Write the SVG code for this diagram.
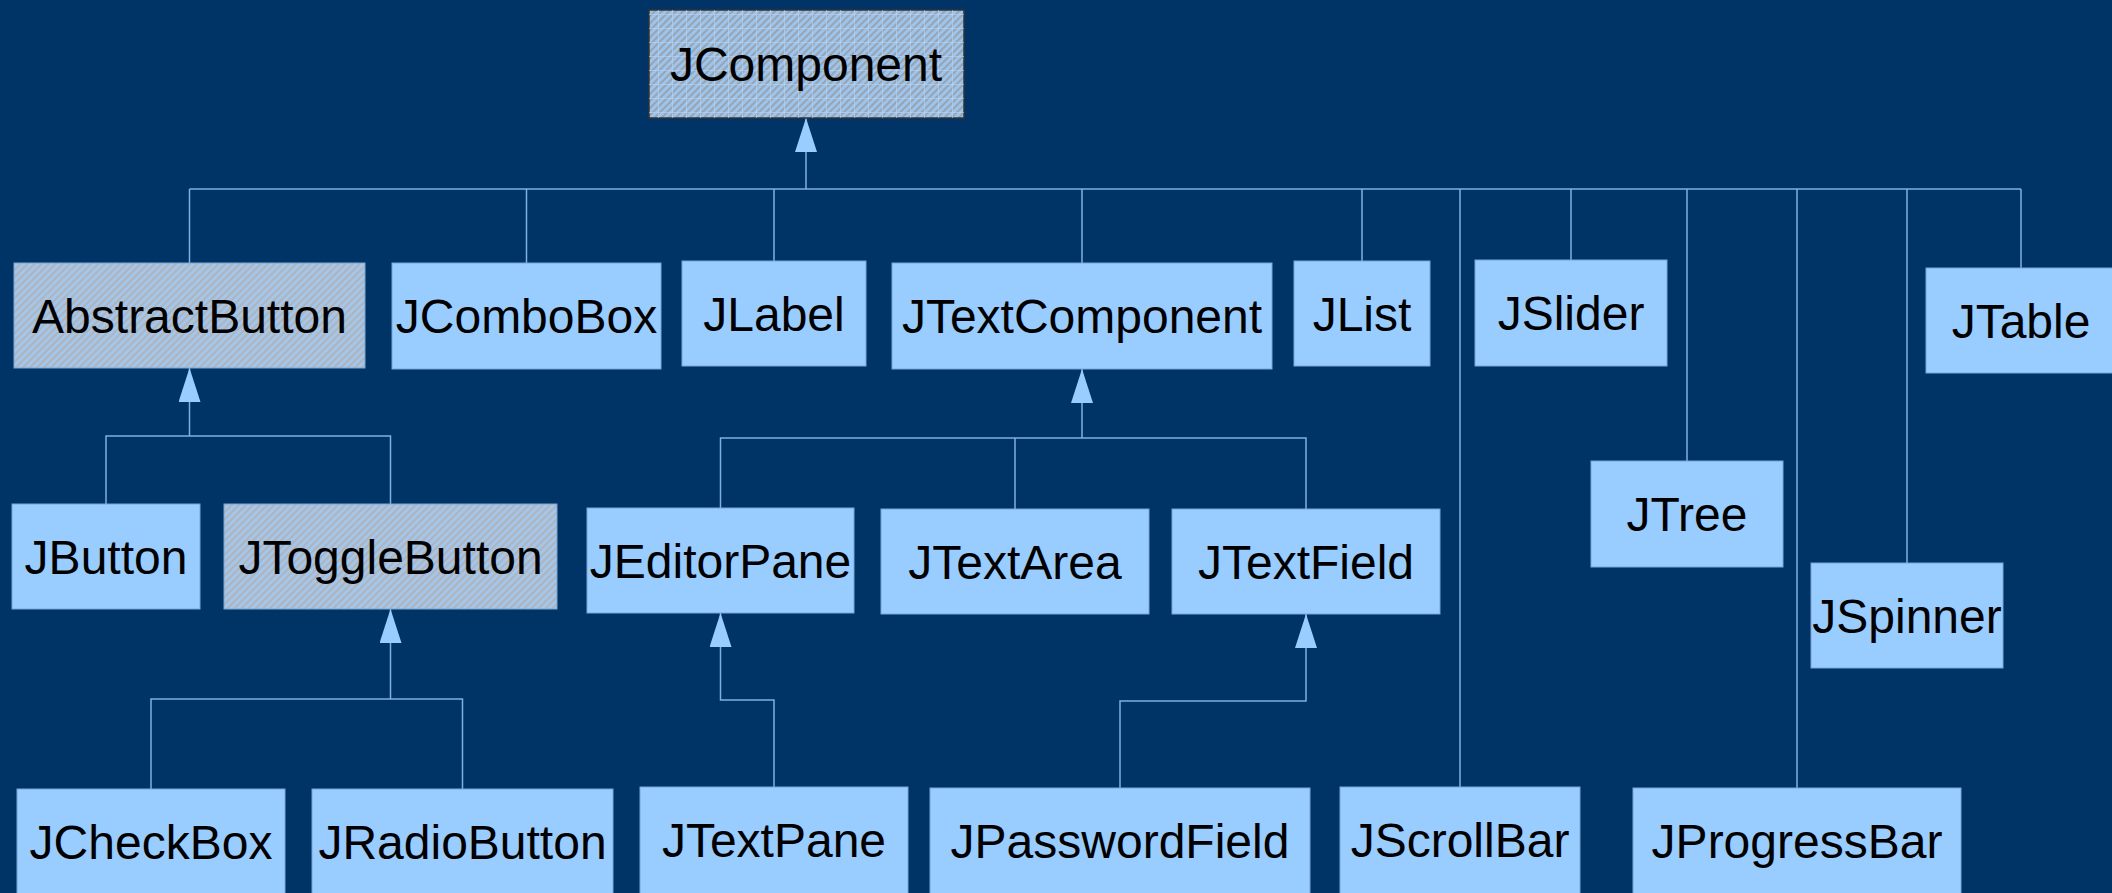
<svg xmlns="http://www.w3.org/2000/svg" width="2112" height="893" viewBox="0 0 2112 893">
<defs>
<style>
.box{fill:#99ccff;stroke:#7aa6d4;stroke-width:1}
.hatch{fill:url(#hatch);stroke:#7aa6d4;stroke-width:1}
.root{fill:url(#cross);stroke:#333333;stroke-width:1.5}
.lbl{font-family:"Liberation Sans",Arial,sans-serif;font-size:48px;fill:#000000;text-anchor:middle}
.ln{fill:none;stroke:#80b0e0;stroke-width:1.5}
</style>
<pattern id="hatch" patternUnits="userSpaceOnUse" width="5" height="5" patternTransform="rotate(45)">
<rect width="5" height="5" fill="#a3c6ea"/>
<rect width="2" height="5" fill="#b0b4ba"/>
</pattern>
<pattern id="cross" patternUnits="userSpaceOnUse" width="5" height="5" patternTransform="rotate(45)">
<rect width="5" height="5" fill="#9cc4ec"/>
<rect width="2" height="5" fill="#9aa4b0"/>
</pattern>
<pattern id="grid" patternUnits="userSpaceOnUse" width="14" height="14">
<path d="M0,0.5H14M0.5,0V14" stroke="#b8d6f4" stroke-width="1" fill="none" opacity="0.6"/>
</pattern>
<marker id="tri" viewBox="0 0 34 22" refX="34" refY="11" markerWidth="34" markerHeight="22" markerUnits="userSpaceOnUse" orient="auto">
<path d="M0,0 L34,11 L0,22 z" fill="#99ccff"/>
</marker>
</defs>
<rect x="0" y="0" width="2112" height="893" fill="#003366"/>

<g id="connectors">
<path class="ln" d="M806,189 V118" marker-end="url(#tri)"/>
<path class="ln" d="M189.5,189 H2021"/>
<path class="ln" d="M189.5,189 V263 M526.5,189 V263 M774,189 V261 M1082,189 V263 M1362,189 V261 M1460,189 V787 M1571,189 V260 M1687,189 V461 M1797,189 V788 M1907,189 V563 M2021,189 V268"/>
<path class="ln" d="M189.5,436 V368" marker-end="url(#tri)"/>
<path class="ln" d="M106,504 V436 H390.5 V504"/>
<path class="ln" d="M390.5,699 V609" marker-end="url(#tri)"/>
<path class="ln" d="M151,789 V699 H462.5 V789"/>
<path class="ln" d="M1082,438 V369" marker-end="url(#tri)"/>
<path class="ln" d="M720.5,508 V438 H1306 V509 M1015,438 V509"/>
<path class="ln" d="M774,787 V700 H720.5 V613" marker-end="url(#tri)"/>
<path class="ln" d="M1120,788 V701 H1306 V614" marker-end="url(#tri)"/>
</g>

<g id="JComponent"><rect class="root" x="649" y="10" width="315" height="108"/><rect x="649" y="10" width="315" height="108" fill="url(#grid)"/><text class="lbl" x="806" y="81">JComponent</text></g>
<g id="AbstractButton"><rect class="hatch" x="14" y="263" width="351" height="105"/><text class="lbl" x="189.5" y="333">AbstractButton</text></g>
<g id="JComboBox"><rect class="box" x="392" y="263" width="269" height="106"/><text class="lbl" x="526.5" y="333">JComboBox</text></g>
<g id="JLabel"><rect class="box" x="682" y="261" width="184" height="105"/><text class="lbl" x="774" y="331">JLabel</text></g>
<g id="JTextComponent"><rect class="box" x="892" y="263" width="380" height="106"/><text class="lbl" x="1082" y="333">JTextComponent</text></g>
<g id="JList"><rect class="box" x="1294" y="261" width="136" height="105"/><text class="lbl" x="1362" y="331">JList</text></g>
<g id="JSlider"><rect class="box" x="1475" y="260" width="192" height="106"/><text class="lbl" x="1571" y="330">JSlider</text></g>
<g id="JTable"><rect class="box" x="1926" y="268" width="190" height="105"/><text class="lbl" x="2021" y="338">JTable</text></g>
<g id="JButton"><rect class="box" x="12" y="504" width="188" height="105"/><text class="lbl" x="106" y="574">JButton</text></g>
<g id="JToggleButton"><rect class="hatch" x="224" y="504" width="333" height="105"/><text class="lbl" x="390.5" y="574">JToggleButton</text></g>
<g id="JEditorPane"><rect class="box" x="587" y="508" width="267" height="105"/><text class="lbl" x="720.5" y="578">JEditorPane</text></g>
<g id="JTextArea"><rect class="box" x="881" y="509" width="268" height="105"/><text class="lbl" x="1015" y="579">JTextArea</text></g>
<g id="JTextField"><rect class="box" x="1172" y="509" width="268" height="105"/><text class="lbl" x="1306" y="579">JTextField</text></g>
<g id="JTree"><rect class="box" x="1591" y="461" width="192" height="106"/><text class="lbl" x="1687" y="531">JTree</text></g>
<g id="JSpinner"><rect class="box" x="1811" y="563" width="192" height="105"/><text class="lbl" x="1907" y="633">JSpinner</text></g>
<g id="JCheckBox"><rect class="box" x="17" y="789" width="268" height="106"/><text class="lbl" x="151" y="859">JCheckBox</text></g>
<g id="JRadioButton"><rect class="box" x="312" y="789" width="301" height="106"/><text class="lbl" x="462.5" y="859">JRadioButton</text></g>
<g id="JTextPane"><rect class="box" x="640" y="787" width="268" height="108"/><text class="lbl" x="774" y="857">JTextPane</text></g>
<g id="JPasswordField"><rect class="box" x="930" y="788" width="380" height="107"/><text class="lbl" x="1120" y="858">JPasswordField</text></g>
<g id="JScrollBar"><rect class="box" x="1340" y="787" width="240" height="108"/><text class="lbl" x="1460" y="857">JScrollBar</text></g>
<g id="JProgressBar"><rect class="box" x="1633" y="788" width="328" height="107"/><text class="lbl" x="1797" y="858">JProgressBar</text></g>
</svg>
